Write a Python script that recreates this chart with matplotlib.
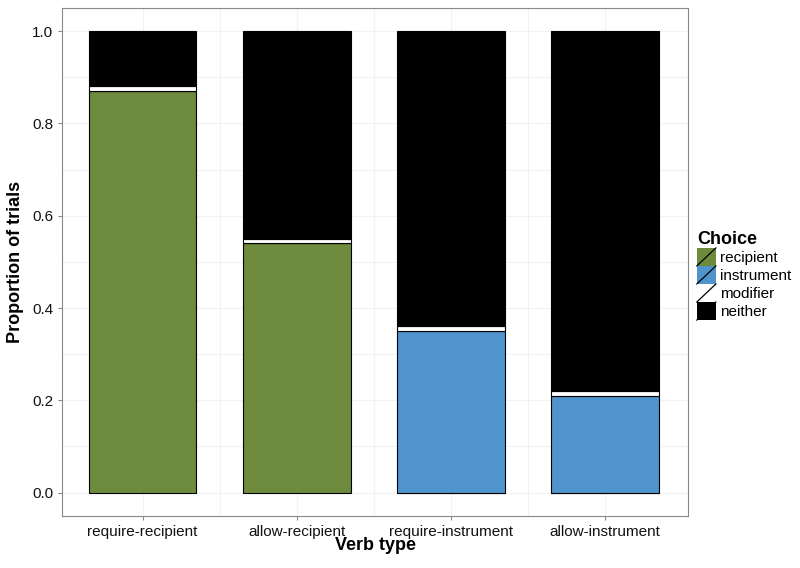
import matplotlib
matplotlib.use('Agg')
import matplotlib.pyplot as plt
from matplotlib.patches import Rectangle
from matplotlib.lines import Line2D
from matplotlib.legend_handler import HandlerBase

plt.rcParams['font.family'] = ['Liberation Sans', 'DejaVu Sans']

verbs      = ['require-recipient', 'allow-recipient', 'require-instrument', 'allow-instrument']
recipient  = [0.87, 0.54, 0.00, 0.00]
instrument = [0.00, 0.00, 0.35, 0.21]
modifier   = [0.01, 0.01, 0.01, 0.01]
neither    = [0.12, 0.45, 0.64, 0.78]

choices = ['recipient', 'instrument', 'modifier', 'neither']
COLORS  = ['#6e8b3d', '#4f94cd', '#ffffff', '#000000']


class SlashHandler(HandlerBase):
    """Legend key like ggplot's: filled box with a diagonal outline stroke."""
    def create_artists(self, legend, orig, xd, yd, w, h, fontsize, trans):
        fc = orig.get_facecolor()
        x0, y0 = -xd, -yd
        rect = Rectangle((x0, y0), w, h, facecolor=fc, edgecolor='none', transform=trans)
        line = Line2D([x0, x0 + w], [y0, y0 + h], color='black', lw=0.9, transform=trans)
        return [rect, line]


fig = plt.figure(figsize=(8, 5.68), dpi=100)
ax = fig.add_axes([0.078, 0.092, 0.782, 0.894])

x = list(range(1, len(verbs) + 1))
bottom = [0.0] * len(verbs)
handles = []
for name, vals, col in zip(choices, [recipient, instrument, modifier, neither], COLORS):
    ax.bar(x, vals, width=0.7, bottom=bottom, color=col, edgecolor='black', linewidth=0.8, zorder=3)
    bottom = [b + v for b, v in zip(bottom, vals)]
    handles.append(Rectangle((0, 0), 1, 1, facecolor=col))

ax.set_xlim(0.48, 4.54)
ax.set_ylim(-0.05, 1.05)
ax.set_xticks(x)
ax.set_xticklabels(verbs)
ax.set_yticks([0.0, 0.2, 0.4, 0.6, 0.8, 1.0])
ax.set_yticks([0.1, 0.3, 0.5, 0.7, 0.9], minor=True)
ax.set_xticks([1.5, 2.5, 3.5], minor=True)
ax.grid(True, which='both', color='#f2f2f2', linewidth=0.8, zorder=0)
ax.tick_params(which='both', length=3, color='#888888', labelsize=11, labelcolor='#111111')
ax.tick_params(which='minor', length=0)
for sp in ax.spines.values():
    sp.set_edgecolor('#888888')
    sp.set_linewidth(0.8)

ax.set_xlabel('Verb type', fontsize=13, fontweight='bold', labelpad=-1)
ax.set_ylabel('Proportion of trials', fontsize=13, fontweight='bold', labelpad=6)

leg = fig.legend(handles, choices, title='Choice', loc='center left',
                 bbox_to_anchor=(0.871, 0.515), frameon=False,
                 handler_map={Rectangle: SlashHandler()},
                 handlelength=1.25, handleheight=1.44, handletextpad=0.3,
                 labelspacing=0.0, fontsize=11, borderaxespad=0, borderpad=0)
leg.get_title().set_fontweight('bold')
leg.get_title().set_fontsize(13)
leg._legend_box.align = 'left'

fig.savefig('out.png', dpi=100, facecolor='white')
